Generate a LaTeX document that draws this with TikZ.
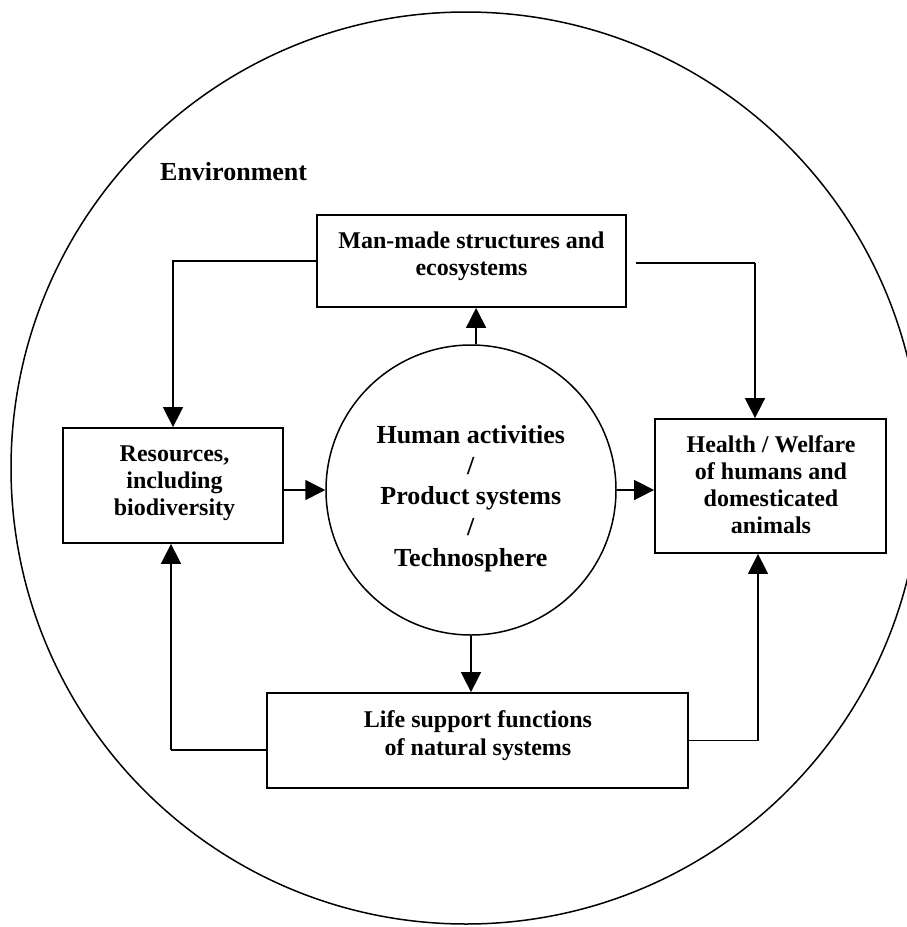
\documentclass[tikz,border=0pt]{standalone}
\usepackage{fontspec}
\setmainfont{Liberation Serif}
\usetikzlibrary{arrows.meta,calc}
\begin{document}
\begin{tikzpicture}[x=1pt,y=-1pt,
  boxnode/.style={draw,line width=1.8pt,inner sep=0pt,rectangle},
  txt/.style={inner sep=0pt,align=center,font=\bfseries\fontsize{24}{27.5}\selectfont},
  bigtxt/.style={inner sep=0pt,align=center,font=\bfseries\fontsize{26}{30.75}\selectfont},
  conn/.style={line width=1.6pt},
  arr/.style={conn,-{Triangle[length=20pt,width=20pt]}}]
\useasboundingbox (0,0) rectangle (906,927);
% environment
\draw[line width=1.5pt] (466,468) ellipse [x radius=455, y radius=456];
\node[bigtxt,anchor=base west] (env) at (160,180) {Environment};
% boxes
\node[boxnode,minimum width=309pt,minimum height=92pt] (mm) at (471.5,261) {};
\node[txt] (mmt) at (471.5,256.5) {Man-made structures and\\ecosystems};
\node[boxnode,minimum width=220pt,minimum height=115pt] (res) at (173,485.5) {};
\node[txt,font=\bfseries\fontsize{24}{27}\selectfont] (rest) at (174.5,483.7) {Resources,\\including\\biodiversity};
\node[boxnode,minimum width=231pt,minimum height=134pt] (hl) at (770.5,486) {};
\node[txt,font=\bfseries\fontsize{24}{27.3}\selectfont] (hlt) at (771,484.7) {Health / Welfare\\of humans and\\domesticated\\animals};
\node[boxnode,minimum width=421pt,minimum height=95pt] (life) at (477.5,740.5) {};
\node[txt,font=\bfseries\fontsize{24}{28}\selectfont] (lifet) at (478,735.3) {Life support functions\\of natural systems};
\node[draw,circle,line width=1.5pt,minimum size=290pt,inner sep=0pt] (hc) at (471,490) {};
\node[bigtxt] (hct) at (470.8,498.5) {Human activities\\/\\Product systems\\/\\Technosphere};
% connectors
\draw[arr] (hc.88) -- (hc.88 |- mm.south);
\draw[arr] (hc.west -| res.east) -- (hc.west);
\draw[arr] (hc.east) -- (hc.east -| hl.west);
\draw[arr] (hc.south) -- (hc.south |- life.north);
\draw[arr] (mm.west) -| (res.north);
\coordinate (tr) at (755,263);
\draw[conn] ($(mm.east)+(9,2)$) -- (tr);
\draw[arr] (tr) -- (tr |- hl.north);
\coordinate (bl) at (171,750);
\draw[conn] ($(life.west)+(0,9.5)$) -- (bl);
\draw[arr] (bl) -- (bl |- res.south);
\coordinate (br) at (758,740.5);
\draw[conn] (life.east) -- (br);
\draw[arr] (br) -- (br |- hl.south);
\end{tikzpicture}
\end{document}
